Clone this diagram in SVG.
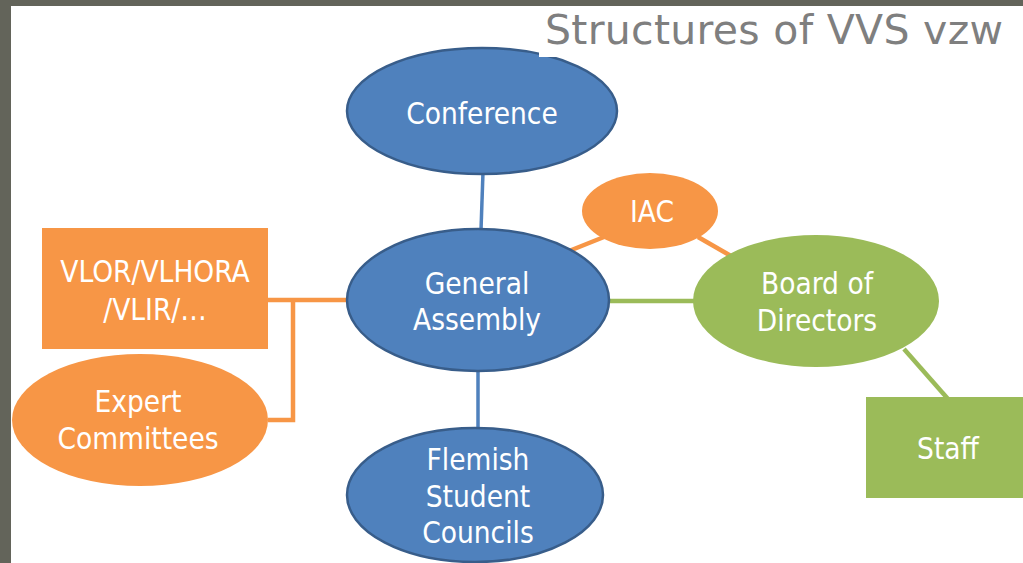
<svg xmlns="http://www.w3.org/2000/svg" width="1023" height="563" viewBox="0 0 1023 563">
<style>
.t{font-family:"DejaVu Sans Condensed","DejaVu Sans",sans-serif;font-size:29.5px;fill:#ffffff;text-anchor:middle}
.blue{fill:#4f81bd;stroke:#385d8a;stroke-width:2.5}
.orange{fill:#f79646}
.green{fill:#9bbb59}
.lb{stroke:#4f81bd;stroke-width:3.5;fill:none}
.lo{stroke:#f79646;stroke-width:4.5;fill:none}
.lg{stroke:#9bbb59;stroke-width:4.5;fill:none}
</style>
<rect x="0" y="0" width="1023" height="563" fill="#63645a"/>
<rect x="11" y="6" width="1012" height="557" fill="#ffffff"/>
<g id="connectors">
<line class="lb" x1="483" y1="172" x2="481" y2="230"/>
<line class="lb" x1="478" y1="371" x2="478" y2="429"/>
<line class="lg" x1="608" y1="301" x2="694" y2="301"/>
<line class="lo" x1="569" y1="251" x2="604" y2="237"/>
<line class="lo" x1="698" y1="237" x2="731" y2="256"/>
<line class="lg" x1="904" y1="349" x2="948" y2="399"/>
<polyline class="lo" points="268,300 348,300"/>
<polyline class="lo" points="293,300 293,420 268,420"/>
</g>
<g id="conference">
<ellipse class="blue" cx="482" cy="111" rx="135" ry="63"/>
<text class="t" x="482" y="124">Conference</text>
</g>
<g id="title">
<rect x="539" y="6" width="484" height="51" fill="#ffffff"/>
<text x="774" y="44" font-family="DejaVu Sans, sans-serif" font-size="41" fill="#7f7f7f" text-anchor="middle" textLength="458" lengthAdjust="spacing">Structures of VVS vzw</text>
</g>
<g id="general-assembly">
<ellipse class="blue" cx="478" cy="300" rx="131" ry="71"/>
<text class="t" x="477" y="294">General</text>
<text class="t" x="477" y="330">Assembly</text>
</g>
<g id="flemish">
<ellipse class="blue" cx="475" cy="495" rx="128" ry="67"/>
<text class="t" x="478" y="470">Flemish</text>
<text class="t" x="478" y="507">Student</text>
<text class="t" x="478" y="543">Councils</text>
</g>
<g id="iac">
<ellipse class="orange" cx="650" cy="211" rx="68" ry="38"/>
<text class="t" x="652" y="222">IAC</text>
</g>
<g id="board">
<ellipse class="green" cx="816" cy="301" rx="123" ry="66"/>
<text class="t" x="817" y="294">Board of</text>
<text class="t" x="817" y="331">Directors</text>
</g>
<g id="staff">
<rect class="green" x="866" y="397" width="157" height="101"/>
<text class="t" x="948" y="459">Staff</text>
</g>
<g id="vlor">
<rect class="orange" x="42" y="228" width="226" height="121"/>
<text class="t" x="155" y="282">VLOR/VLHORA</text>
<text class="t" x="155" y="320">/VLIR/…</text>
</g>
<g id="expert">
<ellipse class="orange" cx="140" cy="420" rx="128" ry="66"/>
<text class="t" x="138" y="412">Expert</text>
<text class="t" x="138" y="449">Committees</text>
</g>
</svg>
